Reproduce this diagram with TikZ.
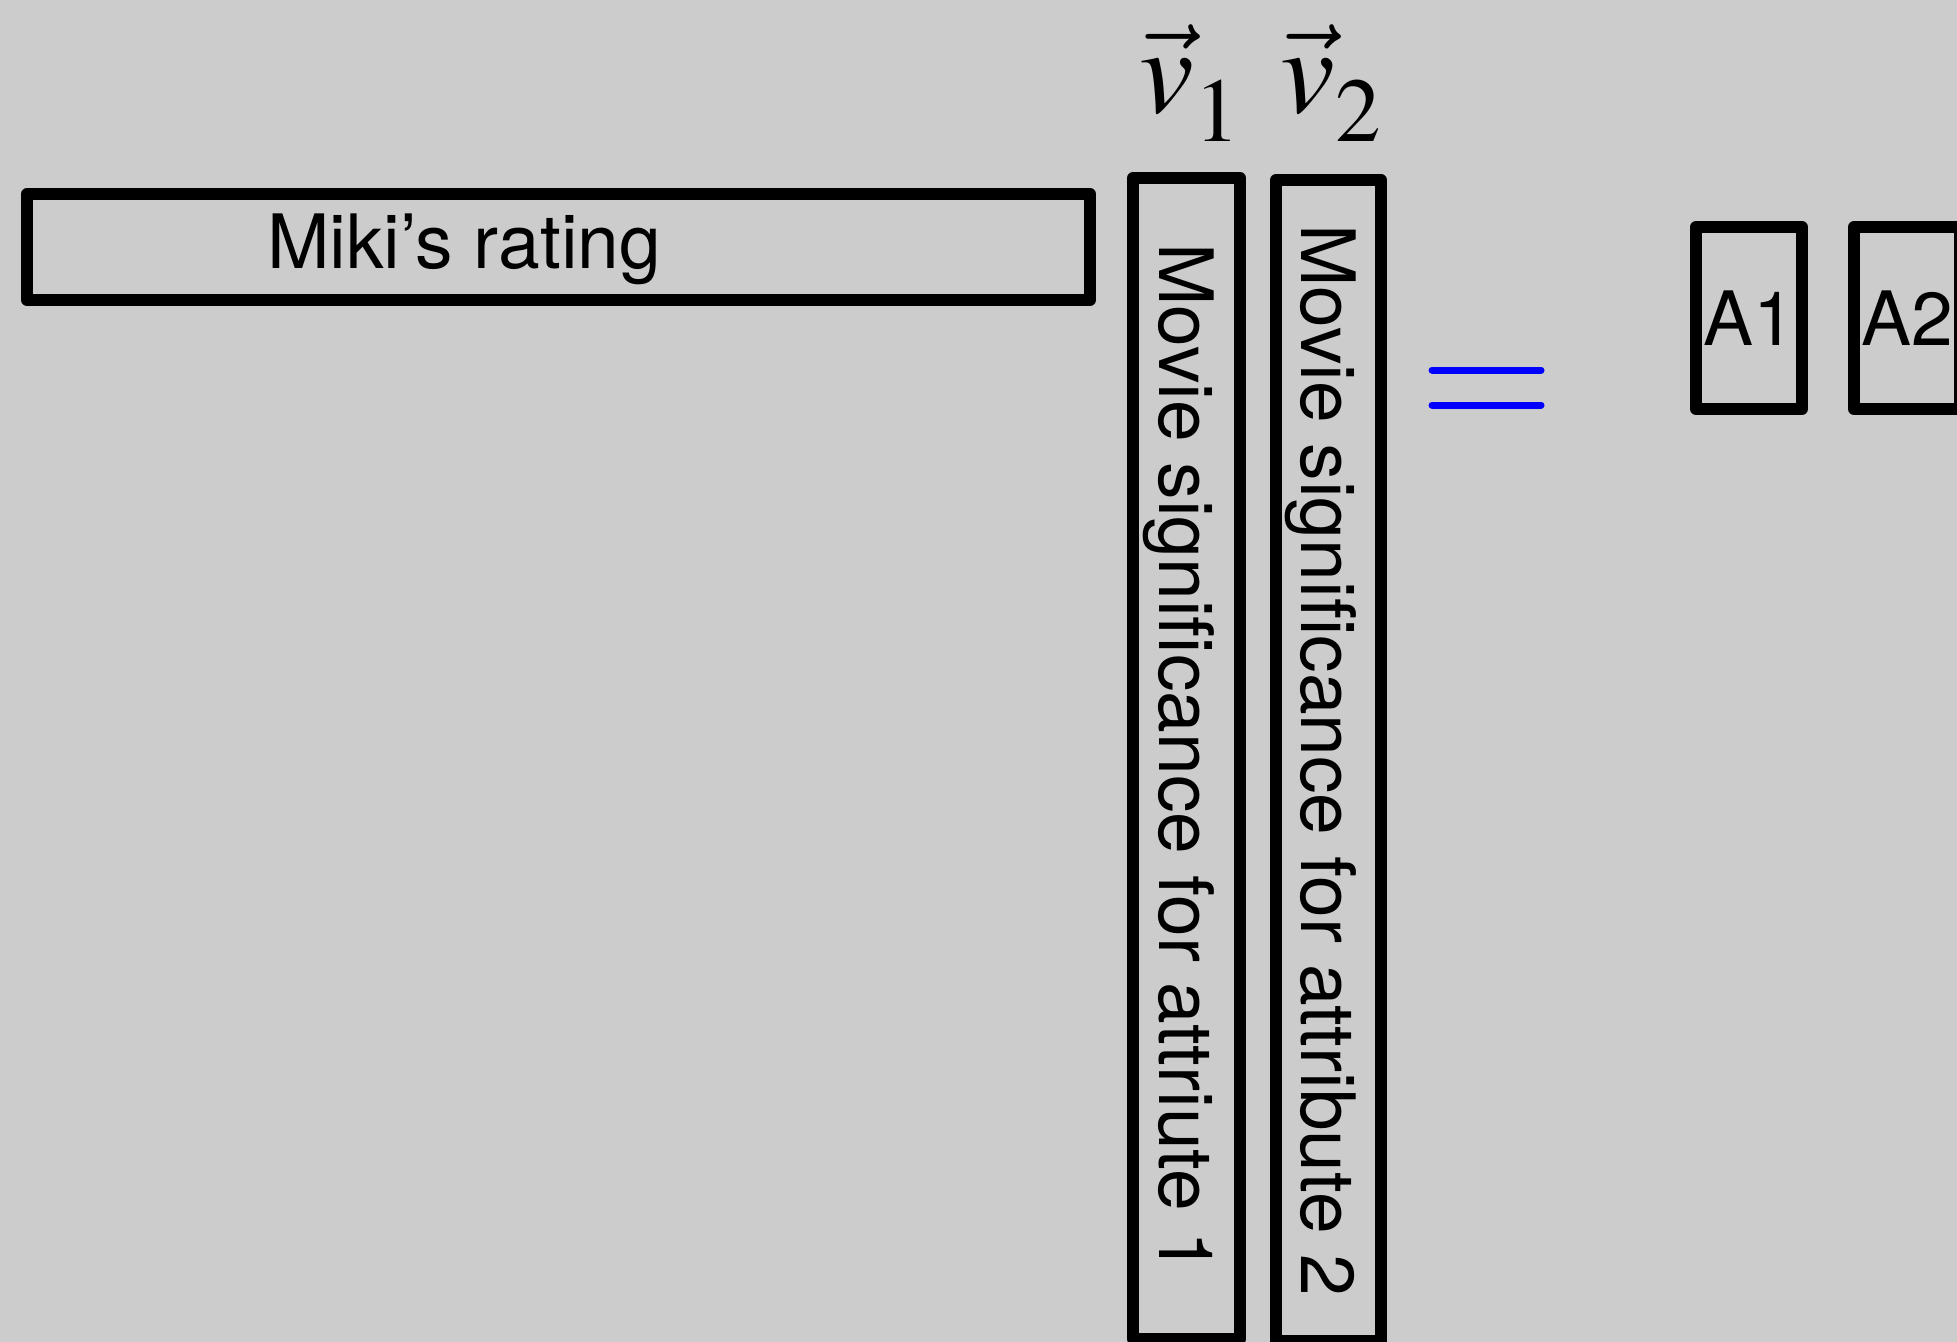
\documentclass[tikz,border=0pt]{standalone}
\usepackage{mathptmx}
\usepackage[no-math]{fontspec}
\setmainfont{TeX Gyre Heros}
\usepackage{tikz}
\usetikzlibrary{
  positioning,
}
\definecolor{slidegray}{RGB}{204, 204, 204}
\definecolor{eqblue}{RGB}{0, 0, 255}
\tikzstyle{matbox} = [
  rectangle,
  draw,
  line width=6pt,
  line join=round,
  inner sep=0pt,
  text height=27pt,
  text depth=0pt,
  font=\fontsize{37.5}{45}\selectfont,
]
\tikzstyle{veclabel} = [
  inner sep=0pt,
  anchor=base,
  font=\fontsize{61.5}{70}\selectfont,
]
\newcommand{\lowsub}[1]{\raisebox{-5pt}{$\scriptstyle #1$}}

\begin{document}
\begin{tikzpicture}[x=0.5pt, y=-0.5pt, node distance=0mm and 0mm]

        \fill[slidegray] (0,0) rectangle (1957,1342);
        \useasboundingbox (0,0) rectangle (1957,1342);

        \node[matbox,minimum width=531.5pt,minimum height=53pt] (rating) at (558.5,247) {};
        \node[inner sep=0pt,anchor=base,font=\fontsize{37.5}{45}\selectfont] (ratingtext) at (464,269) {Miki’s rating};

        \node[matbox,rotate=-90,minimum width=580.5pt,minimum height=53.5pt] (attr1) at (1186.5,758.5) {Movie significance for attriute 1};
        \node[matbox,rotate=-90,minimum width=580.5pt,minimum height=52.5pt] (attr2) at (1328.5,760.5) {Movie significance for attribute 2};

        \node[veclabel] (vecone) at (1190,113) {$\vec{v}_{\lowsub{1}}$};
        \node[veclabel] (vectwo) at (1331,113) {$\vec{v}_{\lowsub{2}}$};

        \draw[eqblue,line width=3.5pt,line cap=round] (1432,370) -- (1541,370);
        \draw[eqblue,line width=3.5pt,line cap=round] (1432,405) -- (1541,405);

        \node[matbox,minimum width=53pt,minimum height=91pt] (coefA1) at (1749,318) {A1};
        \node[matbox,minimum width=53pt,minimum height=91pt] (coefA2) [right=20pt of coefA1] {A2};

      \end{tikzpicture}
\end{document}
